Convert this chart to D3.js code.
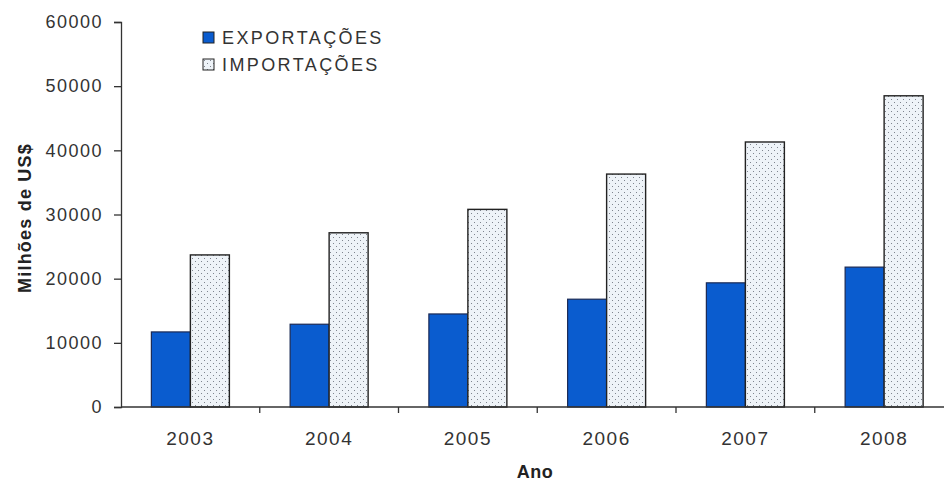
<!DOCTYPE html>
<html><head><meta charset="utf-8">
<script src="https://cdn.jsdelivr.net/npm/d3@7"></script>
<style>
body{margin:0;background:#fff;}
text{font-family:"Liberation Sans",Arial,sans-serif;}
</style></head>
<body><svg id="c" width="944" height="481"></svg>
<script>
const years = ["2003","2004","2005","2006","2007","2008"];
const exportacoes = [11700, 12900, 14500, 16800, 19350, 21800];
const importacoes = [23700, 27150, 30800, 36300, 41300, 48500];
const yTicks = [0,10000,20000,30000,40000,50000,60000];
const seriesNames = ["EXPORTAÇÕES","IMPORTAÇÕES"];

(function(){
const svg = d3.select("#c");
const mLeft = 121, mTop = 22, mBottom = 407, band = 138.75;
const x = d3.scaleBand().domain(years).range([mLeft, mLeft + band*years.length]).paddingInner(0).paddingOuter(0);
const y = d3.scaleLinear().domain([0,60000]).range([mBottom, mTop]);
const barW = 39;

const defs = svg.append("defs");
const pat = defs.append("pattern").attr("id","dots").attr("patternUnits","userSpaceOnUse")
  .attr("width",6).attr("height",6);
pat.append("rect").attr("width",6).attr("height",6).attr("fill","#eef3f8");
pat.append("rect").attr("x",0).attr("y",0).attr("width",1).attr("height",1).attr("fill","#7f858f");
pat.append("rect").attr("x",3).attr("y",3).attr("width",1).attr("height",1).attr("fill","#7f858f");

const g = svg.append("g");
years.forEach((yr,i)=>{
  const cx = x(yr) + x.bandwidth()/2;
  g.append("rect").attr("x",cx-barW).attr("y",y(exportacoes[i])).attr("width",barW)
    .attr("height",mBottom-y(exportacoes[i])).attr("fill","#0a5ccf").attr("stroke","#1b2a55").attr("stroke-width",1.2);
  g.append("rect").attr("x",cx).attr("y",y(importacoes[i])).attr("width",barW)
    .attr("height",mBottom-y(importacoes[i])).attr("fill","url(#dots)").attr("stroke","#222").attr("stroke-width",1.4);
});

const yAxis = svg.append("g").attr("transform",`translate(${mLeft},0)`)
  .call(d3.axisLeft(y).tickValues(yTicks).tickFormat(d3.format("d")).tickSize(7).tickPadding(11));
yAxis.select(".domain").attr("stroke","#333").attr("stroke-width",1.3);
yAxis.selectAll(".tick line").attr("stroke","#333").attr("stroke-width",1.3);
yAxis.selectAll("text").attr("font-size",18).attr("fill","#333").style("letter-spacing","1.5px")
  .attr("font-family","'Liberation Sans',Arial,sans-serif");

svg.append("line").attr("x1",mLeft).attr("x2",944).attr("y1",mBottom).attr("y2",mBottom)
  .attr("stroke","#333").attr("stroke-width",1.3);
years.slice(1).forEach(yr=>{
  svg.append("line").attr("x1",x(yr)).attr("x2",x(yr)).attr("y1",mBottom).attr("y2",mBottom+6)
    .attr("stroke","#333").attr("stroke-width",1.3);
});
svg.selectAll(".xl").data(years).enter().append("text")
  .attr("x",d=>x(d)+x.bandwidth()/2).attr("y",445).attr("text-anchor","middle")
  .attr("font-size",19).attr("fill","#333").style("letter-spacing","1.5px").text(d=>d);

svg.append("text").attr("x",535).attr("y",478).attr("text-anchor","middle")
  .attr("font-size",18).attr("font-weight","bold").attr("fill","#222").style("letter-spacing","0.5px").text("Ano");
svg.append("text").attr("transform","translate(31,218) rotate(-90)").attr("text-anchor","middle")
  .attr("font-size",18).attr("font-weight","bold").attr("fill","#222").style("letter-spacing","1.2px").text("Milhões de US$");

const leg = svg.append("g");
const fills = ["#0a5ccf","url(#dots)"];
seriesNames.forEach((s,i)=>{
  const ly = 32 + i*27;
  leg.append("rect").attr("x",203).attr("y",ly).attr("width",11).attr("height",11)
    .attr("fill",fills[i]).attr("stroke","#222").attr("stroke-width",1);
  leg.append("text").attr("x",222).attr("y",ly+12).attr("font-size",18).attr("fill","#333")
    .style("letter-spacing","2.4px").text(s);
});
})();
</script></body></html>
